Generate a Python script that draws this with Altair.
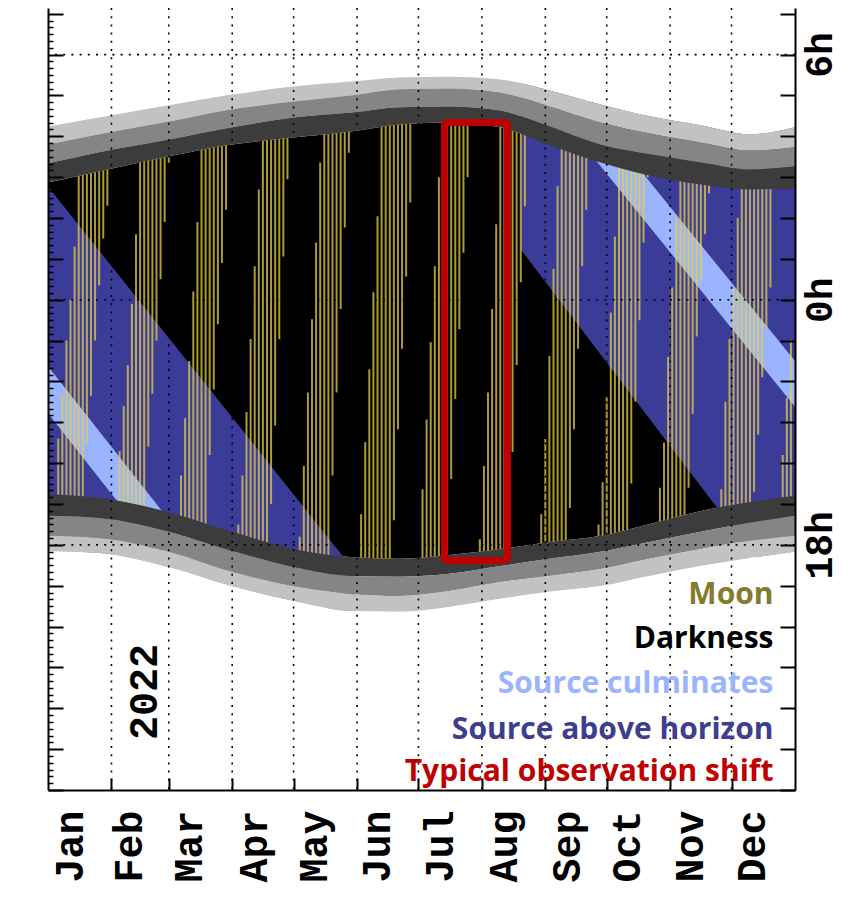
import altair as alt
import pandas as pd

# ---------------- data (day of year 2022, hours relative to local midnight) ----------------
night_day = [0, 25, 59, 90, 120, 148, 172, 196, 221, 245, 270, 294, 319, 343, 365]
light_top = [4.24, 4.46, 4.76, 5.02, 5.22, 5.34, 5.44, 5.46, 5.39, 5.12, 4.78, 4.49, 4.27, 4.05, 4.22]
medium_top = [3.80, 4.05, 4.36, 4.66, 4.85, 5.00, 5.15, 5.17, 5.07, 4.73, 4.34, 4.07, 3.85, 3.65, 3.73]
dark_top = [3.34, 3.61, 3.92, 4.22, 4.46, 4.58, 4.71, 4.73, 4.63, 4.24, 3.80, 3.56, 3.36, 3.19, 3.26]
dawn = [2.87, 3.14, 3.51, 3.80, 3.97, 4.12, 4.29, 4.34, 4.22, 3.78, 3.36, 3.04, 2.82, 2.70, 2.72]
dusk = [-4.76, -4.85, -5.20, -5.68, -6.10, -6.30, -6.34, -6.25, -6.10, -5.93, -5.78, -5.49, -5.17, -4.95, -4.80]
dark_bottom = [-5.29, -5.34, -5.68, -6.15, -6.54, -6.76, -6.78, -6.71, -6.52, -6.34, -6.17, -5.93, -5.68, -5.46, -5.29]
medium_bottom = [-5.78, -5.83, -6.17, -6.66, -7.01, -7.20, -7.25, -7.13, -6.91, -6.76, -6.59, -6.34, -6.10, -5.90, -5.78]
light_bottom = [-6.15, -6.20, -6.54, -7.01, -7.37, -7.62, -7.64, -7.52, -7.32, -7.15, -7.01, -6.76, -6.52, -6.32, -6.17]

# source above horizon: set line (first months) and rise line (last months)
src_set_day = [0, 150]
src_set = [2.77, -6.65]
src_rise_day = [231, 365]
src_rise = [1.23, -7.60]

# source culmination band
culm_seg = ["a", "a", "b", "b"]
culm_day = [0, 70, 265, 365]
culm_hi = [-1.63, -6.08, 4.68, -1.50]
culm_lo = [-2.78, -7.23, 3.58, -2.62]

# moon above horizon, one line every second night (N: risen before dusk, U: sets after dawn)
N, U = -12.0, 12.0
moon_day = [
    5, 7, 9, 11, 13, 15, 17, 19, 21, 23, 25, 27, 29,
    35, 37, 39, 41, 43, 45, 47, 49, 51, 53, 55, 57, 59,
    63, 65, 67, 69, 71, 73, 75, 77, 79, 81, 83, 85, 87,
    93, 95, 97, 99, 101, 103, 105, 107, 109, 111, 113, 115, 117,
    123, 125, 127, 129, 131, 133, 135, 137, 139, 141, 143, 145, 147,
    153, 155, 157, 159, 161, 163, 165, 167, 169, 171, 173, 175, 177,
    183, 185, 187, 189, 191, 193, 195, 197, 199, 201, 203, 205,
    211, 213, 215, 217, 219, 221, 223, 225, 227, 229, 231, 233,
    241, 243, 245, 247, 249, 251, 253, 255, 257, 259, 261, 263,
    269, 271, 273, 275, 277, 279, 281, 283, 285, 287, 289, 291, 293,
    299, 301, 303, 305, 307, 309, 311, 313, 315, 317, 319, 321, 323,
    329, 331, 333, 335, 337, 339, 341, 343, 345, 347, 349, 351, 353,
    359, 361, 363,
]
moon_rise = [
    N, N, N, N, N, N, N, -3.5, -2.35, -1.0, 0.35, 1.5, 2.3,
    N, N, N, N, N, N, N, -3.6, -2.3, -1.0, 0.5, 1.9, 3.35,
    N, N, N, N, N, N, N, N, -3.8, -2.2, -0.6, 0.9, 2.2,
    N, N, N, N, N, N, N, N, -5.0, -3.08, -0.97, 1.06, 2.95,
    N, N, N, N, N, N, N, N, -4.3, -2.27, -0.23, 1.77, 3.6,
    N, N, N, N, N, N, N, N, -5.4, -3.17, -1.2, 0.57, 2.38,
    N, N, N, N, N, N, N, -4.39, -2.43, -0.72, 1.15, 3.0,
    N, N, N, N, N, N, N, N, -3.73, -1.6, 0.43, 2.29,
    N, N, N, N, N, N, N, -5.1, -3.17, -1.2, 0.82, 2.2,
    N, N, N, N, N, N, N, N, -4.5, -2.5, -0.5, 1.4, 3.0,
    N, N, N, N, N, N, N, -4.6, -2.8, -0.9, 0.5, 1.6, 2.6,
    N, N, N, N, N, N, N, N, -4.7, -3.3, -1.9, -0.7, 0.3,
    N, N, N,
]
moon_set = [
    -3.4, -2.3, -1.0, 0.0, 1.3, U, U, U, U, U, U, U, U,
    -3.7, -2.6, -1.6, -0.1, 1.6, U, U, U, U, U, U, U, U,
    -5.6, -4.3, -2.9, -1.5, 0.2, 1.9, U, U, U, U, U, U, U,
    -5.5, -4.3, -2.75, -0.96, 0.82, 2.7, U, U, U, U, U, U, U,
    -5.8, -4.07, -2.27, -0.48, 1.4, 3.36, U, U, U, U, U, U, U,
    -5.25, -3.49, -1.7, 0.18, 2.04, U, U, U, U, U, U, U, U,
    -4.64, -2.93, -1.04, 0.82, 3.0, U, U, U, U, U, U, U,
    -5.86, -4.07, -2.27, -0.23, 1.85, U, U, U, U, U, U, U,
    -5.25, -3.41, -1.38, 0.75, 2.78, U, U, U, U, U, U, U,
    -5.5, -4.47, -2.39, -0.31, 1.55, 3.27, U, U, U, U, U, U, U,
    -4.6, -3.5, -1.4, 0.3, 2.0, U, U, U, U, U, U, U, U,
    -4.64, -2.5, -0.96, 0.26, 2.0, U, U, U, U, U, U, U, U,
    -3.8, -2.4, -1.0,
]

# typical observation shift
obs_start, obs_end = [193.7], [224.5]
obs_lo, obs_hi = [-6.38], [4.34]

# axes / labels
month_names = ["Jan", "Feb", "Mar", "Apr", "May", "Jun", "Jul", "Aug", "Sep", "Oct", "Nov", "Dec"]
month_label_day = [11, 40, 69, 101, 130, 161, 192, 223, 254, 283, 314, 344]
month_start = [31, 59, 90, 120, 151, 181, 212, 243, 273, 304, 334]
grid_hours = [6, 0, -6]
hour_label_values = [6, 0, -6]
hour_label_text = ["6h", "0h", "18h"]
major_hours = list(range(-12, 8))
minor_hours = [m / 6 for m in range(-72, 43) if m % 6 != 0]

legend_text = ["Moon", "Darkness", "Source culminates", "Source above horizon", "Typical observation shift"]
legend_color = ["#857a2e", "#000000", "#9cb4fc", "#3e3e91", "#c00000"]
legend_y = [-7.44, -8.52, -9.62, -10.75, -11.77]
legend_x = [354.5] * 5
year_text, year_x, year_y = ["2022"], [47.4], [-9.6]

# ---------------- chart ----------------
W, H = 747, 782
xs = alt.Scale(domain=[0, 365], nice=False, zero=False)
ys = alt.Scale(domain=[-12, 7.14], nice=False, zero=False)
MONO = "Liberation Mono"

LIGHT, MEDIUM, DARK = "#c2c2c2", "#858585", "#3c3c3c"
BLUE, LBLUE, MOON = "#3b3b98", "#9ab4ff", "#e6cf45"

night = pd.DataFrame(dict(day=night_day, light_top=light_top, medium_top=medium_top,
                          dark_top=dark_top, dawn=dawn, dusk=dusk, dark_bottom=dark_bottom,
                          medium_bottom=medium_bottom, light_bottom=light_bottom))
base = alt.Chart(night)

def xa(axis=None):
    return alt.X("day:Q", scale=xs, axis=axis, title=None)

def ya(field, axis=None):
    return alt.Y(field, type="quantitative", scale=ys, axis=axis, title=None)

label_expr = "[" + ",".join("'%s'" % m for m in month_names) + "][indexof([" + \
    ",".join(str(v) for v in month_label_day) + "], datum.value)]"
x_axis_labels = alt.Axis(orient="bottom", values=month_label_day, labelExpr=label_expr, ticks=False,
                         domain=True, domainColor="black", domainWidth=2, grid=False, zindex=2,
                         labelAngle=270, labelFont=MONO, labelFontWeight="bold", labelFontSize=40,
                         labelColor="black", labelPadding=20, labelAlign="right", labelBaseline="middle",
                         labelOverlap=False, labelFlush=False)
x_axis_ticks = alt.Axis(orient="top", offset=-H, values=month_start, tickSize=12, tickWidth=2,
                        tickColor="black", labels=False, domain=False, grid=False, zindex=2)
y_axis_left_major = alt.Axis(orient="right", offset=-W, values=major_hours, tickSize=15, tickWidth=2,
                             tickColor="black", labels=False, domain=True, domainColor="black",
                             domainWidth=2, grid=False, zindex=2)
y_axis_left_minor = alt.Axis(orient="right", offset=-W, values=minor_hours, tickSize=5, tickWidth=1.5,
                             tickColor="black", labels=False, domain=False, grid=False, zindex=2)
y_axis_right_major = alt.Axis(orient="left", offset=-W, values=major_hours, tickSize=15, tickWidth=2,
                              tickColor="black", labels=False, domain=True, domainColor="black",
                              domainWidth=2, grid=False, zindex=2)
hl_expr = "[" + ",".join("'%s'" % t for t in hour_label_text) + "][indexof([" + \
    ",".join(str(v) for v in hour_label_values) + "], datum.value)]"
y_axis_right_labels = alt.Axis(orient="right", values=hour_label_values, labelExpr=hl_expr, ticks=False,
                               domain=False, grid=False, labelAngle=270, labelFont=MONO,
                               labelFontWeight="bold", labelFontSize=38, labelColor="black",
                               labelPadding=6, labelAlign="center", labelBaseline="top", zindex=2)

darkness = base.mark_area(color="black", interpolate="monotone", clip=True).encode(
    x=xa(x_axis_labels), y=ya("dusk", y_axis_left_major), y2="dawn:Q")

blue_left = alt.Chart(pd.DataFrame(dict(day=src_set_day, v=src_set))).mark_area(
    color=BLUE, clip=True).encode(x=xa(), y=ya("v"), y2=alt.datum(-12))
blue_right = alt.Chart(pd.DataFrame(dict(day=src_rise_day, v=src_rise))).mark_area(
    color=BLUE, clip=True).encode(x=xa(), y=ya("v"), y2=alt.datum(12))
culm = alt.Chart(pd.DataFrame(dict(seg=culm_seg, day=culm_day, hi=culm_hi, lo=culm_lo))).mark_area(
    color=LBLUE, clip=True).encode(x=xa(), y=ya("lo"), y2="hi:Q", detail="seg:N")

moon = alt.Chart(pd.DataFrame(dict(day=moon_day, rise=moon_rise, set=moon_set))).mark_rule(
    color=MOON, opacity=0.75, strokeWidth=2, clip=True).encode(x=xa(), y=ya("rise"), y2="set:Q")

def band(lo, hi, color, axis=None, xaxis=None):
    return base.mark_area(color=color, interpolate="monotone", clip=True).encode(
        x=xa(xaxis), y=ya(lo, axis), y2=hi)

white_top = base.mark_area(color="white", interpolate="monotone", clip=True).encode(
    x=xa(), y=ya("light_top"), y2=alt.datum(12))
white_bottom = base.mark_area(color="white", interpolate="monotone", clip=True).encode(
    x=xa(), y=ya("light_bottom"), y2=alt.datum(-12))
t_light = band("medium_top", "light_top:Q", LIGHT)
t_medium = band("dark_top", "medium_top:Q", MEDIUM, axis=y_axis_right_labels)
t_dark = band("dawn", "dark_top:Q", DARK, axis=y_axis_left_minor)
b_dark = band("dark_bottom", "dusk:Q", DARK, axis=y_axis_right_major)
b_medium = band("medium_bottom", "dark_bottom:Q", MEDIUM, xaxis=x_axis_ticks)
b_light = band("light_bottom", "medium_bottom:Q", LIGHT)

vgrid = alt.Chart(pd.DataFrame(dict(day=month_start))).mark_rule(
    color="black", strokeWidth=1.6, strokeDash=[2, 6.2]).encode(x=xa())
hgrid = alt.Chart(pd.DataFrame(dict(h=grid_hours))).mark_rule(
    color="black", strokeWidth=1.6, strokeDash=[2, 6.2]).encode(y=ya("h"))

obs = alt.Chart(pd.DataFrame(dict(day=obs_start, day2=obs_end, lo=obs_lo, hi=obs_hi))).mark_rect(
    fillOpacity=0, stroke="#c00000", strokeWidth=7, cornerRadius=3).encode(
    x=xa(), x2="day2:Q", y=ya("lo"), y2="hi:Q")

legend = alt.Chart(pd.DataFrame(dict(day=legend_x, y=legend_y, t=legend_text, c=legend_color))).mark_text(
    align="right", baseline="alphabetic", font="Open Sans", fontWeight="bold", fontSize=30).encode(
    x=xa(), y=ya("y"), text="t:N", color=alt.Color("c:N", scale=None))

year = alt.Chart(pd.DataFrame(dict(day=year_x, y=year_y, t=year_text))).mark_text(
    angle=270, align="center", baseline="middle", font=MONO, fontWeight="bold", fontSize=40,
    color="black").encode(x=xa(), y=ya("y"), text="t:N")

chart = alt.layer(
    darkness, blue_left, blue_right, culm, moon,
    white_top, t_light, t_medium, t_dark, b_dark, b_medium, b_light, white_bottom,
    vgrid, hgrid, obs, legend, year,
).resolve_axis(x="independent", y="independent").properties(
    width=W, height=H,
    autosize=alt.AutoSizeParams(type="none"),
    padding={"left": 40, "top": 0, "right": 50, "bottom": 107},
).configure_view(stroke=None).configure(background="white")

chart.save("out.html", embed_options={"renderer": "svg", "actions": False})
